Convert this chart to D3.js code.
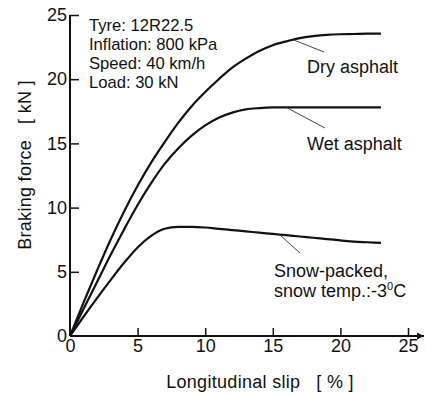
<!DOCTYPE html>
<html>
<head>
<meta charset="utf-8">
<script src="https://cdn.jsdelivr.net/npm/d3@7/dist/d3.min.js"></script>
<style>
  html, body { margin: 0; padding: 0; background: #fff; }
  svg { display: block; font-family: "Liberation Sans", Arial, Helvetica, sans-serif; }
</style>
</head>
<body>
<svg id="chart" width="426" height="394"></svg>
<script>
// Longitudinal slip [%] sample points shared by all three surfaces
const slip = [0, 1, 2, 3, 4, 5, 6, 7, 8, 9, 10, 11, 12, 13, 14, 15, 16, 17, 18, 19, 20, 21, 22, 23];

// Braking force [kN] per road surface
const dryAsphalt = [0, 2.6, 5.1, 7.5, 9.7, 11.7, 13.5, 15.1, 16.6, 17.9, 19.0, 20.0, 20.9, 21.6, 22.2, 22.65, 22.95, 23.2, 23.35, 23.45, 23.5, 23.52, 23.55, 23.55];
const wetAsphalt = [0, 2.1, 4.2, 6.3, 8.3, 10.2, 11.9, 13.4, 14.6, 15.6, 16.4, 17.0, 17.4, 17.65, 17.75, 17.8, 17.8, 17.8, 17.8, 17.8, 17.8, 17.8, 17.8, 17.8];
const snowPacked = [0, 1.5, 2.95, 4.35, 5.7, 6.9, 7.8, 8.35, 8.5, 8.5, 8.45, 8.35, 8.25, 8.15, 8.05, 7.95, 7.85, 7.75, 7.65, 7.55, 7.45, 7.35, 7.3, 7.25];

const xTicks = [0, 5, 10, 15, 20, 25];
const yTicks = [0, 5, 10, 15, 20, 25];

const testConditions = ["Tyre: 12R22.5", "Inflation: 800 kPa", "Speed: 40 km/h", "Load: 30 kN"];

const svg = d3.select("#chart");
const ink = "#111";

const x = d3.scaleLinear().domain([0, 25]).range([70, 408]);
const y = d3.scaleLinear().domain([0, 25]).range([336, 15]);

// Arrowhead for the slip axis
svg.append("defs").append("marker")
  .attr("id", "arrow")
  .attr("viewBox", "0 0 10 10")
  .attr("refX", 10).attr("refY", 5)
  .attr("markerWidth", 9).attr("markerHeight", 7)
  .attr("markerUnits", "userSpaceOnUse")
  .attr("orient", "auto")
  .append("path")
  .attr("d", "M0,0 L10,5 L0,10 Z")
  .attr("fill", ink);

// X axis: inward ticks, line runs past 25 to an arrow
const gx = svg.append("g")
  .attr("transform", `translate(0,${y(0)})`)
  .call(d3.axisBottom(x).tickValues(xTicks).tickSize(-8).tickPadding(3).tickFormat(d3.format("d")));
gx.select(".domain").remove();
gx.selectAll(".tick line").attr("stroke", ink).attr("stroke-width", 1.5)
  .filter(d => d === 0).remove();
gx.selectAll(".tick text").attr("fill", ink).attr("font-size", 18).attr("font-family", null);
svg.append("line")
  .attr("x1", x(0)).attr("x2", 424)
  .attr("y1", y(0)).attr("y2", y(0))
  .attr("stroke", ink).attr("stroke-width", 2)
  .attr("marker-end", "url(#arrow)");

// Y axis: inward ticks
const gy = svg.append("g")
  .attr("transform", `translate(${x(0)},0)`)
  .call(d3.axisLeft(y).tickValues(yTicks).tickSize(-9).tickPadding(3).tickFormat(d3.format("d")));
gy.select(".domain").remove();
gy.selectAll(".tick line").attr("stroke", ink).attr("stroke-width", 1.5)
  .filter(d => d === 0).remove();
gy.selectAll(".tick text").attr("fill", ink).attr("font-size", 18).attr("font-family", null);
svg.append("line")
  .attr("x1", x(0)).attr("x2", x(0))
  .attr("y1", y(25)).attr("y2", y(0))
  .attr("stroke", ink).attr("stroke-width", 2);

// Axis titles
svg.append("text")
  .attr("x", 260).attr("y", 388)
  .attr("text-anchor", "middle")
  .attr("font-size", 18).attr("letter-spacing", 0.3).attr("fill", ink)
  .attr("xml:space", "preserve")
  .text("Longitudinal slip   [ % ]");
svg.append("text")
  .attr("transform", "translate(31,165) rotate(-90)")
  .attr("text-anchor", "middle")
  .attr("font-size", 18).attr("letter-spacing", 0.3).attr("fill", ink)
  .attr("xml:space", "preserve")
  .text("Braking force   [ kN ]");

// Test conditions block
svg.append("g").selectAll("text")
  .data(testConditions)
  .join("text")
  .attr("x", 89)
  .attr("y", (d, i) => 31 + i * 19)
  .attr("font-size", 16.6).attr("fill", ink)
  .text(d => d);

// Friction curves
const line = d3.line()
  .x((d, i) => x(slip[i]))
  .y(d => y(d))
  .curve(d3.curveMonotoneX);

[dryAsphalt, wetAsphalt, snowPacked].forEach(series => {
  svg.append("path")
    .datum(series)
    .attr("d", line)
    .attr("fill", "none")
    .attr("stroke", ink)
    .attr("stroke-width", 2.2)
    .attr("stroke-linejoin", "round");
});

// Curve labels with leader lines
const labels = [
  { series: dryAsphalt, at: 16.5, lines: ["Dry asphalt"], lx: 307, ly: 73, ex: 324, ey: 52 },
  { series: wetAsphalt, at: 16, lines: ["Wet asphalt"], lx: 307, ly: 150, ex: 325, ey: 128 },
  { series: snowPacked, at: 15.5, lines: ["Snow-packed,", "snow temp.:-3"], lx: 274, ly: 277, ex: 300, ey: 253 }
];

labels.forEach(l => {
  const i = slip.indexOf(Math.floor(l.at));
  const t = l.at - slip[i];
  const v = l.series[i] + t * (l.series[i + 1] - l.series[i]);
  svg.append("line")
    .attr("x1", x(l.at)).attr("y1", y(v))
    .attr("x2", l.ex).attr("y2", l.ey)
    .attr("stroke", "#444").attr("stroke-width", 1);
  l.lines.forEach((s, k) => {
    const txt = svg.append("text")
      .attr("x", l.lx).attr("y", l.ly + k * 20)
      .attr("font-size", 18).attr("fill", ink)
      .text(s);
    if (s.endsWith("-3")) {
      txt.append("tspan").attr("font-size", 11).attr("dy", -7).text("0");
      txt.append("tspan").attr("dy", 7).text("C");
    }
  });
});
</script>
</body>
</html>
